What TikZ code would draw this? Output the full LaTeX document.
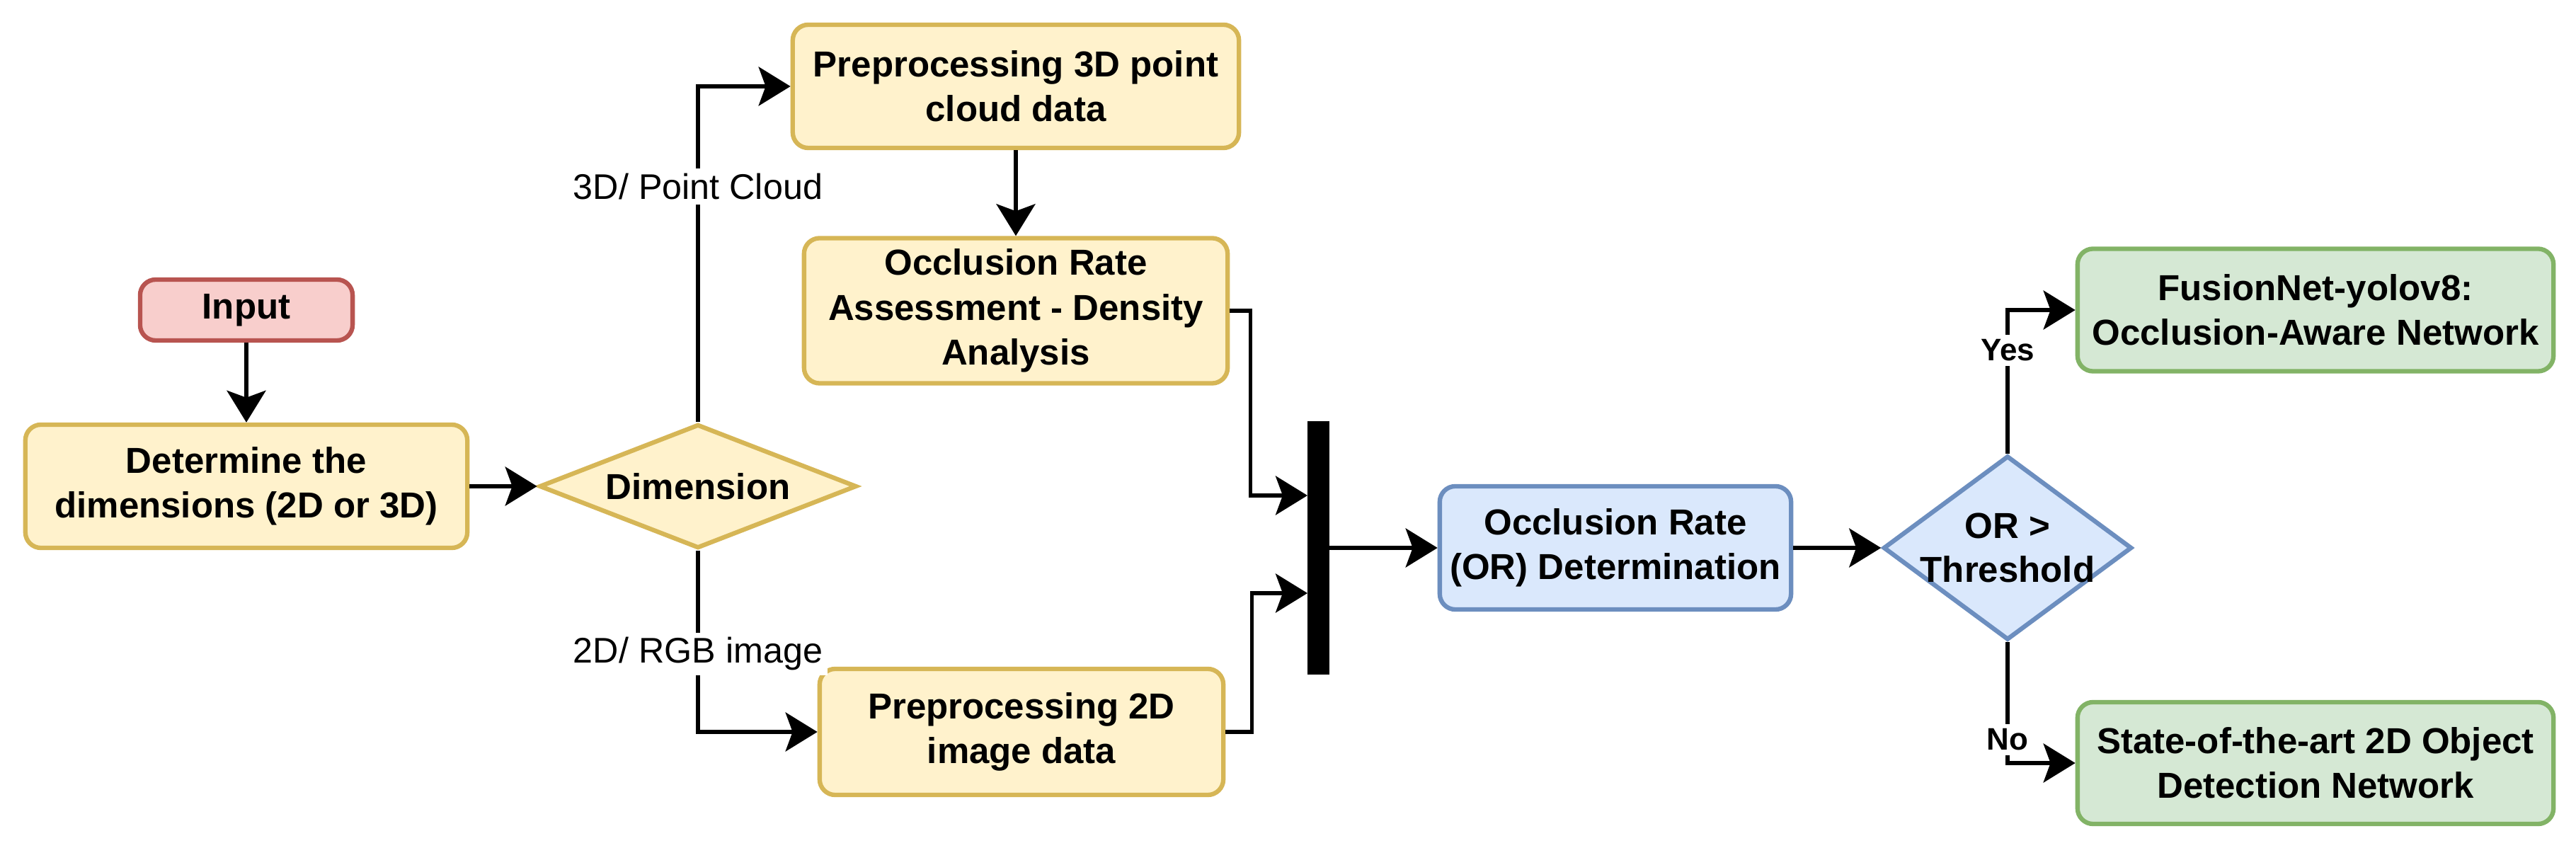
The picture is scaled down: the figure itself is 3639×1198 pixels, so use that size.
\documentclass[tikz,border=0pt]{standalone}
\usepackage{fontspec}
\setmainfont{Liberation Sans}
\usetikzlibrary{arrows.meta,shapes.geometric}
\definecolor{yfill}{HTML}{FFF2CC}
\definecolor{ydraw}{HTML}{D6B656}
\definecolor{rfill}{HTML}{F8CECC}
\definecolor{rdraw}{HTML}{B85450}
\definecolor{bfill}{HTML}{DAE8FC}
\definecolor{bdraw}{HTML}{6C8EBF}
\definecolor{gfill}{HTML}{D5E8D4}
\definecolor{gdraw}{HTML}{82B366}
\begin{document}
\begin{tikzpicture}[x=0.01cm,y=-0.01cm,
  box/.style={draw, line width=1.8pt, rounded corners=0.22cm, align=center, inner sep=0pt,
    font=\fontsize{14.5}{18}\selectfont\bfseries},
  ybox/.style={box, fill=yfill, draw=ydraw},
  rbox/.style={box, fill=rfill, draw=rdraw},
  bbox/.style={box, fill=bfill, draw=bdraw},
  gbox/.style={box, fill=gfill, draw=gdraw},
  dia/.style={diamond, draw, line width=1.8pt, inner sep=0pt},
  dtext/.style={align=center, inner sep=0pt, font=\fontsize{14.5}{17.5}\selectfont\bfseries},
  arr/.style={-{Stealth[length=0.45cm,width=0.55cm,inset=0.1cm]}, line width=1.5pt},
  lbl/.style={fill=white, inner sep=2pt, font=\fontsize{14.3}{17}\selectfont},
  yn/.style={fill=white, inner sep=2pt, font=\fontsize{12.5}{15}\selectfont\bfseries}
]
\useasboundingbox (0,0) rectangle (3639,1198);

\node[rbox, minimum width=3.0cm, minimum height=0.86cm] (input) at (348,438) {Input};
\node[ybox, minimum width=6.24cm, minimum height=1.74cm] (det) at (348,687) {Determine the\\dimensions (2D or 3D)};
\node[dia, fill=yfill, draw=ydraw, minimum width=4.48cm, minimum height=1.75cm] (dim) at (986,687) {};
\node[dtext] (dimt) at (dim.center) {Dimension};
\node[ybox, minimum width=6.3cm, minimum height=1.74cm] (pre3) at (1435,122) {Preprocessing 3D point\\cloud data};
\node[ybox, minimum width=5.98cm, minimum height=2.05cm] (occ) at (1435,439) {Occlusion Rate\\Assessment - Density\\Analysis};
\node[ybox, minimum width=5.7cm, minimum height=1.78cm] (pre2) at (1443,1034) {Preprocessing 2D\\image data};
\node[fill=black, inner sep=0pt, minimum width=0.31cm, minimum height=3.58cm] (bar) at (1862,774) {};
\node[bbox, minimum width=4.96cm, minimum height=1.74cm] (orb) at (2282,774) {Occlusion Rate\\(OR) Determination};
\node[dia, fill=bfill, draw=bdraw, minimum width=3.51cm, minimum height=2.6cm] (ord) at (2836,774) {};
\node[dtext] (ordt) at (ord.center) {OR >\\Threshold};
\node[gbox, minimum width=6.72cm, minimum height=1.73cm] (g1) at (3271,438) {FusionNet-yolov8:\\Occlusion-Aware Network};
\node[gbox, minimum width=6.72cm, minimum height=1.72cm] (g2) at (3271,1078) {State-of-the-art 2D Object\\Detection Network};

\coordinate (j1) at (1847,700);
\coordinate (j2) at (1847,838);

\draw[arr] (input.south) -- (det.north);
\draw[arr] (det.east) -- (dim.west);
\draw[arr] (dim.north) |- (pre3.west);
\draw[arr] (dim.south) |- (pre2.west);
\draw[arr] (pre3.south) -- (occ.north);
\draw[arr] (occ.east) -- ++(29,0) |- (j1);
\draw[arr] (pre2.east) -- ++(37,0) |- (j2);
\draw[arr] (bar.east) -- (orb.west);
\draw[arr] (orb.east) -- (ord.west);
\draw[arr] (ord.north) |- (g1.west);
\draw[arr] (ord.south) |- (g2.west);

\node[lbl] (l3d) at (986,264) {3D/ Point Cloud};
\node[lbl] (l2d) at (986,924) {2D/ RGB image};
\node[yn] (lyes) at (2836,495) {Yes};
\node[yn] (lno) at (2836,1045) {No};
\end{tikzpicture}
\end{document}
